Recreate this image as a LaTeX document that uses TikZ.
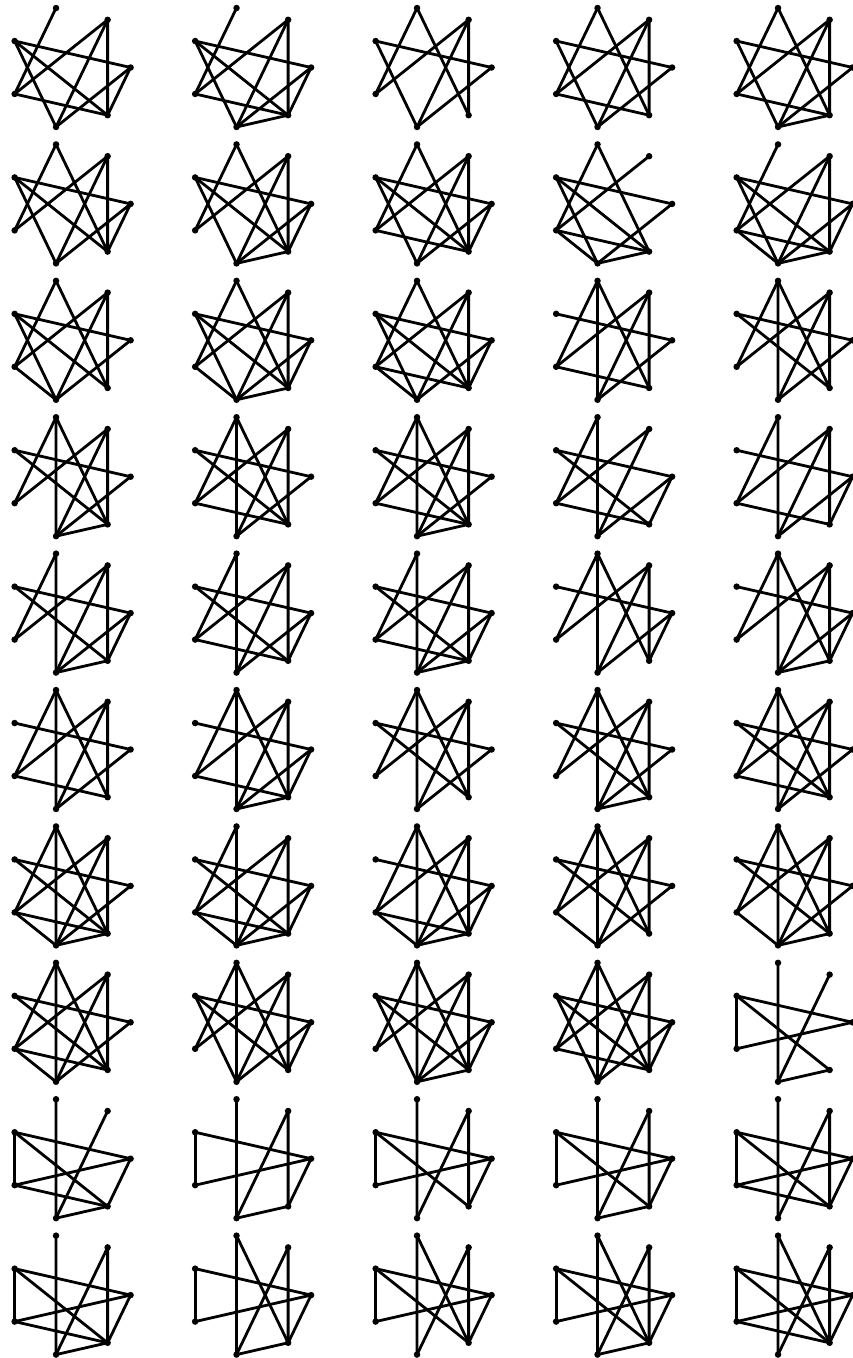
\documentclass[tikz,border=0pt]{standalone}
\tikzset{
  vtx/.style={circle,fill=black,inner sep=0pt,minimum size=6.5pt},
  edge/.style={line width=2.8pt,line cap=round},
}
\begin{document}
\begin{tikzpicture}[x=1pt,y=1pt]
\useasboundingbox (0,0) rectangle (852,-1358);
\foreach \r/\c/\E in {
  0/0/{0/3,0/5,0/6,1/4,1/5,1/6,2/4,3/5,3/6,4/6},
  0/1/{0/3,0/5,0/6,1/4,1/5,1/6,2/4,3/5,3/6,4/6,5/6},
  0/2/{0/3,0/5,1/4,1/5,1/6,2/4,2/6,3/5},
  0/3/{0/3,0/5,1/4,1/5,1/6,2/4,2/6,3/5,4/6},
  0/4/{0/3,0/5,1/4,1/5,1/6,2/4,2/6,3/5,4/6,5/6},
  1/0/{0/3,0/5,0/6,1/4,1/5,1/6,2/4,2/6,3/5,3/6},
  1/1/{0/3,0/5,0/6,1/4,1/5,1/6,2/4,2/6,3/5,3/6,5/6},
  1/2/{0/3,0/5,0/6,1/4,1/5,1/6,2/4,2/6,3/5,3/6,4/6},
  1/3/{0/3,0/5,1/4,2/4,2/6,3/5,3/6,4/5,4/6,5/6},
  1/4/{0/3,0/5,0/6,1/4,1/5,1/6,2/4,3/5,3/6,4/5,4/6,5/6},
  2/0/{0/3,0/5,1/4,1/5,1/6,2/4,2/6,3/5,3/6,4/5},
  2/1/{0/3,0/5,0/6,1/4,1/5,1/6,2/4,2/6,3/5,3/6,4/5,5/6},
  2/2/{0/3,0/5,0/6,1/4,1/5,1/6,2/4,2/6,3/5,3/6,4/5,4/6},
  2/3/{0/3,0/5,1/4,1/5,1/6,2/4,2/5,2/6,4/6},
  2/4/{0/3,0/5,1/4,1/5,1/6,2/4,2/5,2/6,3/6},
  3/0/{0/3,0/5,1/4,1/5,1/6,2/4,2/5,2/6,3/6,5/6},
  3/1/{0/3,0/5,1/4,1/5,1/6,2/4,2/5,2/6,3/6,4/6},
  3/2/{0/3,0/5,1/4,1/5,1/6,2/4,2/5,2/6,3/6,4/6,5/6},
  3/3/{0/3,0/5,0/6,1/4,1/5,2/4,2/5,3/6,4/6},
  3/4/{0/3,0/5,0/6,1/4,1/5,1/6,2/4,2/5,4/6},
  4/0/{0/3,0/5,0/6,1/4,1/5,1/6,2/4,2/5,3/6,5/6},
  4/1/{0/3,0/5,0/6,1/4,1/5,1/6,2/4,2/5,3/6,4/6},
  4/2/{0/3,0/5,0/6,1/4,1/5,1/6,2/4,2/5,3/6,4/6,5/6},
  4/3/{0/3,0/5,0/6,1/4,1/5,1/6,2/4,2/5,2/6},
  4/4/{0/3,0/5,0/6,1/4,1/5,1/6,2/4,2/5,2/6,5/6},
  5/0/{0/3,0/5,1/4,1/5,1/6,2/4,2/5,2/6,4/6},
  5/1/{0/3,0/5,0/6,1/4,1/5,1/6,2/4,2/5,2/6,4/6,5/6},
  5/2/{0/3,0/5,1/4,1/5,1/6,2/4,2/5,2/6,3/6},
  5/3/{0/3,0/5,1/4,1/5,1/6,2/4,2/5,2/6,3/6,5/6},
  5/4/{0/3,0/5,1/4,1/5,1/6,2/4,2/5,2/6,3/6,4/6},
  6/0/{0/3,0/5,1/4,1/5,1/6,2/4,2/5,2/6,3/6,4/5,4/6,5/6},
  6/1/{0/3,0/5,0/6,1/4,1/5,1/6,2/4,2/5,3/6,4/5,4/6,5/6},
  6/2/{0/3,0/5,0/6,1/4,1/5,1/6,2/4,2/5,2/6,4/5,4/6,5/6},
  6/3/{0/3,0/5,1/4,1/5,1/6,2/4,2/5,2/6,3/6,4/5},
  6/4/{0/3,0/5,1/4,1/5,1/6,2/4,2/5,2/6,3/6,4/5,5/6},
  7/0/{0/3,0/5,1/4,1/5,1/6,2/4,2/5,2/6,3/6,4/5,4/6},
  7/1/{0/3,0/5,0/6,1/4,1/5,1/6,2/4,2/5,2/6,3/5,3/6},
  7/2/{0/3,0/5,0/6,1/4,1/5,1/6,2/4,2/5,2/6,3/5,3/6,5/6},
  7/3/{0/3,0/5,0/6,1/4,1/5,1/6,2/4,2/5,2/6,3/5,3/6,4/6},
  7/4/{0/3,0/4,1/5,2/5,3/4,3/6,5/6},
  8/0/{0/3,0/4,0/6,1/5,2/5,3/4,3/6,4/6,5/6},
  8/1/{0/3,0/4,0/6,1/5,1/6,2/5,3/4,5/6},
  8/2/{0/3,0/4,0/6,1/5,1/6,2/5,3/4,3/6},
  8/3/{0/3,0/4,0/6,1/5,1/6,2/5,3/4,3/6,5/6},
  8/4/{0/3,0/4,0/6,1/5,1/6,2/5,3/4,3/6,4/6},
  9/0/{0/3,0/4,0/6,1/5,1/6,2/5,3/4,3/6,4/6,5/6},
  9/1/{0/3,0/4,0/6,1/5,1/6,2/5,2/6,3/4,5/6},
  9/2/{0/3,0/4,0/6,1/5,1/6,2/5,2/6,3/4,3/6},
  9/3/{0/3,0/4,0/6,1/5,1/6,2/5,2/6,3/4,3/6,5/6},
  9/4/{0/3,0/4,0/6,1/5,1/6,2/5,2/6,3/4,3/6,4/6}}{
  \foreach \k in {0,...,6}
    \node[vtx] (v\r\c-\k) at ([shift={(69.6+180.5*\c,-67.5-136.4*\r)}]\k*360/7:61) {};
  \foreach \a/\b in \E
    \draw[edge] (v\r\c-\a.center) -- (v\r\c-\b.center);
}
\end{tikzpicture}
\end{document}
